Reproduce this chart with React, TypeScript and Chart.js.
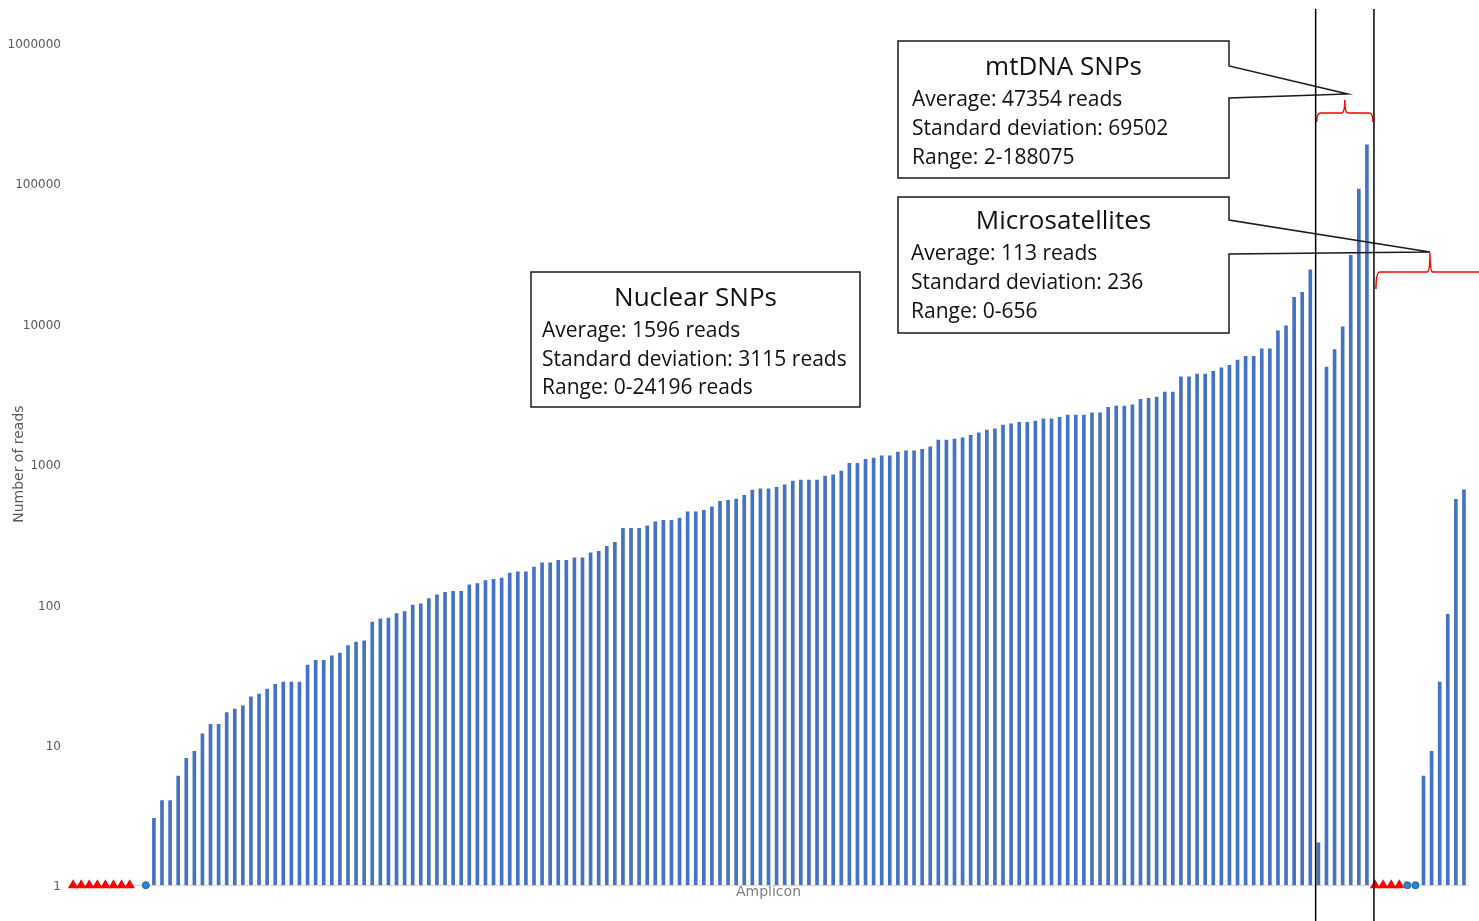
import React, { useEffect, useRef } from 'react';
import { Chart, registerables } from 'chart.js';

Chart.register(...registerables);

// Reads per amplicon (0 = no reads, drawn as a red triangle; 1 = one read, drawn as a dot).
// null marks an empty slot on the amplicon axis.
const nuclearSNPReads: (number | null)[] = [
  0, 0, 0, 0, 0, 0, 0, 0, null, 1,
  3, 4, 4, 6, 8, 9, 12, 14, 14, 17,
  18, 19, 22, 23, 25, 27, 28, 28, 28, 37,
  40, 40, 43, 45, 51, 54, 55, 75, 79, 80,
  86, 89, 99, 101, 110, 117, 122, 124, 124, 138,
  141, 148, 151, 154, 167, 171, 171, 185, 198, 198,
  206, 206, 215, 215, 233, 239, 259, 277, 348, 348,
  348, 363, 388, 397, 397, 412, 457, 457, 468, 497,
  542, 551, 563, 599, 653, 667, 667,
  682, 713, 757, 769, 769, 769, 822, 839, 892, 1012,
  1012, 1080, 1104, 1146, 1146, 1217, 1244, 1244, 1273, 1328,
  1482, 1482, 1507, 1541, 1602, 1673, 1747, 1786, 1897, 1937,
  1981, 1981, 2024, 2102, 2102, 2152, 2236, 2236, 2236, 2321,
  2321, 2535, 2590, 2590, 2647, 2892, 2939, 3002, 3259, 3259,
  4188, 4188, 4376, 4376, 4578, 4856, 5047, 5512, 5853, 5853,
  6633, 6633, 8910, 9680, 15400, 16740, 24196,
];
const mtDNAReads: number[] = [2, 4920, 6550, 9500, 30700, 91000, 188075];
const microsatelliteReads: number[] = [0, 0, 0, 0, 1, 1, 6, 9, 28, 85, 560, 656];

const yTickValues = [1, 10, 100, 1000, 10000, 100000, 1000000];
const yTickLabels = ['1', '10', '100', '1000', '10000', '100000', '1000000'];

const nuclearTitle = 'Nuclear SNPs';
const nuclearStats = ['Average: 1596 reads', 'Standard deviation: 3115 reads', 'Range: 0-24196 reads'];
const mtDNATitle = 'mtDNA SNPs';
const mtDNAStats = ['Average: 47354 reads', 'Standard deviation: 69502', 'Range: 2-188075'];
const microsatTitle = 'Microsatellites';
const microsatStats = ['Average: 113 reads', 'Standard deviation: 236', 'Range: 0-656'];

const allReads: (number | null)[] = [...nuclearSNPReads, ...mtDNAReads, ...microsatelliteReads];
const amplicons = allReads.map((_, i) => String(i + 1));
const barValues = allReads.map((v) => (v !== null && v > 1 ? v : null));
const zeroMarks = allReads.map((v) => (v === 0 ? 1 : null));
const oneMarks = allReads.map((v) => (v === 1 ? 1 : null));

type Box = { x: number; y: number; w: number; h: number };

function drawCallout(
  ctx: CanvasRenderingContext2D,
  b: Box,
  title: string,
  lines: string[],
  textX: number,
  titleY: number,
  lineY0: number,
  lineGap: number,
  wedge?: { top: number; bottom: number; tipX: number; tipY: number }
) {
  ctx.save();
  ctx.fillStyle = '#ffffff';
  ctx.fillRect(b.x, b.y, b.w, b.h);
  ctx.beginPath();
  ctx.moveTo(b.x, b.y);
  ctx.lineTo(b.x + b.w, b.y);
  if (wedge) {
    ctx.lineTo(b.x + b.w, wedge.top);
    ctx.lineTo(wedge.tipX, wedge.tipY);
    ctx.lineTo(b.x + b.w, wedge.bottom);
  }
  ctx.lineTo(b.x + b.w, b.y + b.h);
  ctx.lineTo(b.x, b.y + b.h);
  ctx.closePath();
  ctx.strokeStyle = '#1a1a1a';
  ctx.lineWidth = 1.5;
  ctx.stroke();
  ctx.fillStyle = '#111111';
  ctx.textBaseline = 'middle';
  ctx.textAlign = 'center';
  ctx.font = '26px "Open Sans"';
  ctx.fillText(title, b.x + b.w / 2, titleY);
  ctx.textAlign = 'left';
  ctx.font = '21px "Open Sans"';
  lines.forEach((t, i) => ctx.fillText(t, textX, lineY0 + i * lineGap));
  ctx.restore();
}

function drawBrace(
  ctx: CanvasRenderingContext2D,
  x1: number,
  x2: number,
  xm: number,
  y: number,
  depth: number,
  peak: number
) {
  ctx.save();
  ctx.strokeStyle = '#FF0000';
  ctx.lineWidth = 1.5;
  ctx.beginPath();
  ctx.moveTo(x1, y + depth);
  ctx.quadraticCurveTo(x1, y, x1 + 4, y);
  ctx.lineTo(xm - 3, y);
  ctx.quadraticCurveTo(xm, y, xm, y - peak);
  ctx.quadraticCurveTo(xm, y, xm + 3, y);
  ctx.lineTo(x2 - 4, y);
  ctx.quadraticCurveTo(x2, y, x2, y + depth);
  ctx.stroke();
  ctx.restore();
}

const annotationPlugin = {
  id: 'readAnnotations',
  afterDraw(chart: any) {
    const ctx: CanvasRenderingContext2D = chart.ctx;
    const x = chart.scales.x;
    const nEnd = nuclearSNPReads.length;
    const mEnd = nEnd + mtDNAReads.length;
    const leftLine = x.getPixelForValue(nEnd - 0.34);
    const rightLine = x.getPixelForValue(mEnd - 0.13);
    const H = chart.height;

    // mtDNA brace + callout
    const mx1 = leftLine + 1;
    const mx2 = rightLine - 1;
    const mxm = (mx1 + mx2) / 2;
    drawBrace(ctx, mx1, mx2, mxm, 113, 9, 13);
    // microsatellite brace + callout
    const sx1 = rightLine + 2;
    const sxm = rightLine + 56;
    drawBrace(ctx, sx1, chart.width + 40, sxm, 272, 17, 19);

    drawCallout(ctx, { x: 531, y: 272, w: 329, h: 135 }, nuclearTitle, nuclearStats, 542, 299, 331, 28.7);
    drawCallout(ctx, { x: 898, y: 41, w: 331, h: 137 }, mtDNATitle, mtDNAStats, 912, 68, 100, 29,
      { top: 66, bottom: 98, tipX: mxm + 3, tipY: 94 });
    drawCallout(ctx, { x: 898, y: 197, w: 331, h: 136 }, microsatTitle, microsatStats, 911, 222, 254, 29,
      { top: 220, bottom: 254, tipX: sxm, tipY: 252 });

    ctx.save();
    ctx.strokeStyle = '#000000';
    ctx.lineWidth = 1.5;
    [leftLine, rightLine].forEach((lx) => {
      ctx.beginPath();
      ctx.moveTo(lx, 9);
      ctx.lineTo(lx, H);
      ctx.stroke();
    });
    ctx.restore();
  },
};

export default function App() {
  const ref = useRef<HTMLCanvasElement | null>(null);
  useEffect(() => {
    if (!ref.current) return;
    const axisFont = { family: 'DejaVu Sans', size: 14 };
    const chart = new Chart(ref.current, {
      type: 'bar',
      data: {
        labels: amplicons,
        datasets: [
          {
            type: 'line',
            label: 'No reads',
            data: zeroMarks,
            showLine: false,
            pointStyle: 'triangle',
            pointRadius: 6,
            pointBackgroundColor: '#FF0000',
            pointBorderColor: '#FF0000',
            pointBorderWidth: 0,
            clip: false,
            order: 0,
          } as any,
          {
            type: 'line',
            label: 'One read',
            data: oneMarks,
            showLine: false,
            pointStyle: 'circle',
            pointRadius: 3.5,
            pointBackgroundColor: '#1F8AD3',
            pointBorderColor: '#2B5C9E',
            pointBorderWidth: 1,
            clip: false,
            order: 0,
          } as any,
          {
            type: 'bar',
            label: 'Reads',
            data: barValues,
            backgroundColor: '#4472C4',
            barThickness: 3,
            order: 1,
          } as any,
        ],
      },
      options: {
        animation: false,
        responsive: false,
        layout: { padding: { left: 0, top: 43, right: 11, bottom: 20 } },
        plugins: { legend: { display: false }, tooltip: { enabled: false } },
        scales: {
          x: {
            grid: { display: false, drawTicks: false },
            border: { display: true, color: '#D9D9D9', width: 1 },
            ticks: { display: false },
            title: {
              display: true,
              text: 'Amplicon',
              color: '#7F7F7F',
              font: axisFont,
              padding: { top: -1, bottom: 0 },
            },
          },
          y: {
            type: 'logarithmic',
            min: 1,
            max: 1000000,
            grid: { display: false, drawTicks: false },
            border: { display: false },
            afterBuildTicks: (s: any) => {
              s.ticks = yTickValues.map((v) => ({ value: v }));
            },
            afterFit: (s: any) => {
              s.width = 69;
            },
            ticks: {
              padding: 8,
              labelOffset: 2,
              color: '#595959',
              font: { family: 'DejaVu Sans', size: 12 },
              callback: (_v: any, i: number) => yTickLabels[i],
            },
            title: {
              display: true,
              text: 'Number of reads',
              color: '#595959',
              font: axisFont,
              padding: { top: 11, bottom: 0 },
            },
          },
        },
      } as any,
      plugins: [annotationPlugin],
    });
    return () => chart.destroy();
  }, []);
  return (
    <div style={{ position: 'absolute', left: 0, top: 0, width: 1479, height: 921 }}>
      <canvas ref={ref} width={1479} height={921} style={{ display: 'block', width: 1479, height: 921 }} />
    </div>
  );
}
